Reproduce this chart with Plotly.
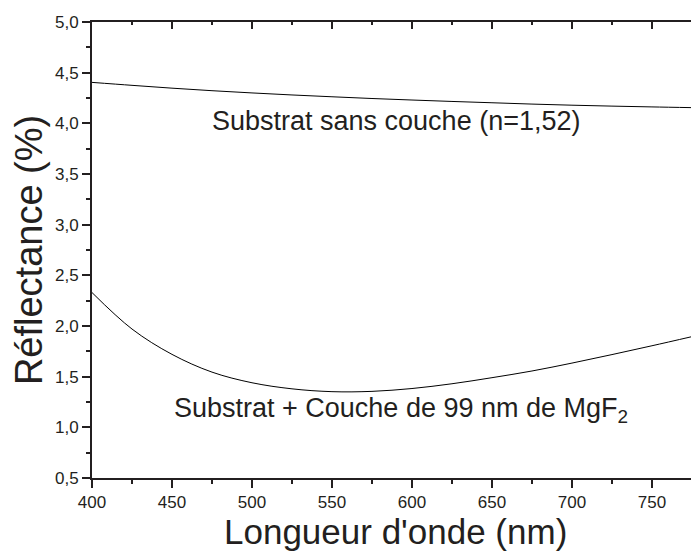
import plotly.graph_objects as go

# Wavelength grid (nm)
wavelength = [400, 425, 450, 475, 500, 525, 550, 575, 600, 625, 650, 675, 700, 725, 750, 775]

# Reflectance (%) of the bare substrate (n = 1.52)
r_bare = [4.404, 4.375, 4.347, 4.322, 4.300, 4.280, 4.262, 4.245, 4.230, 4.216,
          4.203, 4.190, 4.179, 4.170, 4.162, 4.155]

# Reflectance (%) with a 99 nm MgF2 layer
r_coated = [2.33, 1.97, 1.72, 1.545, 1.44, 1.38, 1.352, 1.355, 1.383, 1.43,
            1.49, 1.556, 1.634, 1.718, 1.805, 1.895]

label_bare = "Substrat sans couche (n=1,52)"
label_coated = "Substrat + Couche de 99 nm de MgF<sub>2</sub>"
x_title = "Longueur d'onde (nm)"
y_title = "Réflectance (%)"

ink = "#231f20"
font_family = "Liberation Sans"

fig = go.Figure()
fig.add_trace(go.Scatter(x=wavelength, y=r_bare, mode="lines",
                         line=dict(color="black", width=1, shape="spline"),
                         showlegend=False))
fig.add_trace(go.Scatter(x=wavelength, y=r_coated, mode="lines",
                         line=dict(color="black", width=1, shape="spline"),
                         showlegend=False))

x_range = [400, 774.4]
x_ticks = [400, 450, 500, 550, 600, 650, 700, 750]

fig.update_layout(
    width=691, height=551,
    margin=dict(l=92, r=0, t=22, b=73),
    paper_bgcolor="white", plot_bgcolor="white",
    separators=",.",
    font=dict(family=font_family, color=ink),
    xaxis=dict(
        range=x_range, tickvals=x_ticks,
        ticks="outside", ticklen=8, tickwidth=1.5, tickcolor=ink,
        minor=dict(dtick=25, tick0=400, ticks="outside", ticklen=4, tickwidth=1.5, tickcolor=ink),
        showline=True, linecolor=ink, linewidth=2, showgrid=False, zeroline=False,
        tickfont=dict(family=font_family, size=17, color=ink),
    ),
    xaxis2=dict(
        overlaying="x", side="top", matches="x", range=x_range,
        tickvals=x_ticks, showticklabels=False,
        ticks="inside", ticklen=7, tickwidth=1.5, tickcolor=ink,
        minor=dict(dtick=25, tick0=400, ticks="inside", ticklen=3, tickwidth=1.5, tickcolor=ink),
        showline=True, linecolor=ink, linewidth=2, showgrid=False, zeroline=False,
    ),
    yaxis=dict(
        range=[0.5, 5.0], dtick=0.5, tick0=0.5, tickformat=".1f",
        ticks="outside", ticklen=8, tickwidth=1.5, tickcolor=ink,
        minor=dict(dtick=0.25, tick0=0.5, ticks="outside", ticklen=4, tickwidth=1.5, tickcolor=ink),
        showline=True, linecolor=ink, linewidth=2, showgrid=False, zeroline=False,
        tickfont=dict(family=font_family, size=17, color=ink),
    ),
)

# Invisible point that puts the mirrored top axis on the page
fig.add_trace(go.Scatter(x=[wavelength[0]], y=[r_bare[0]], xaxis="x2", mode="markers",
                         marker=dict(opacity=0), showlegend=False, hoverinfo="skip"))

# Axis titles
fig.add_annotation(xref="paper", yref="paper", x=0.5075, y=-0.118, text=x_title,
                   showarrow=False, xanchor="center", yanchor="middle",
                   font=dict(family=font_family, size=35, color=ink))
fig.add_annotation(xref="paper", yref="paper", x=-0.105, y=0.5, text=y_title,
                   showarrow=False, xanchor="center", yanchor="middle", textangle=-90,
                   font=dict(family=font_family, size=38, color=ink))

# Curve labels
fig.add_annotation(x=590, y=4.02, text=label_bare, showarrow=False,
                   font=dict(family=font_family, size=27, color=ink))
fig.add_annotation(x=593, y=1.17, text=label_coated, showarrow=False,
                   font=dict(family=font_family, size=27, color=ink))

fig.write_html("out.html")
